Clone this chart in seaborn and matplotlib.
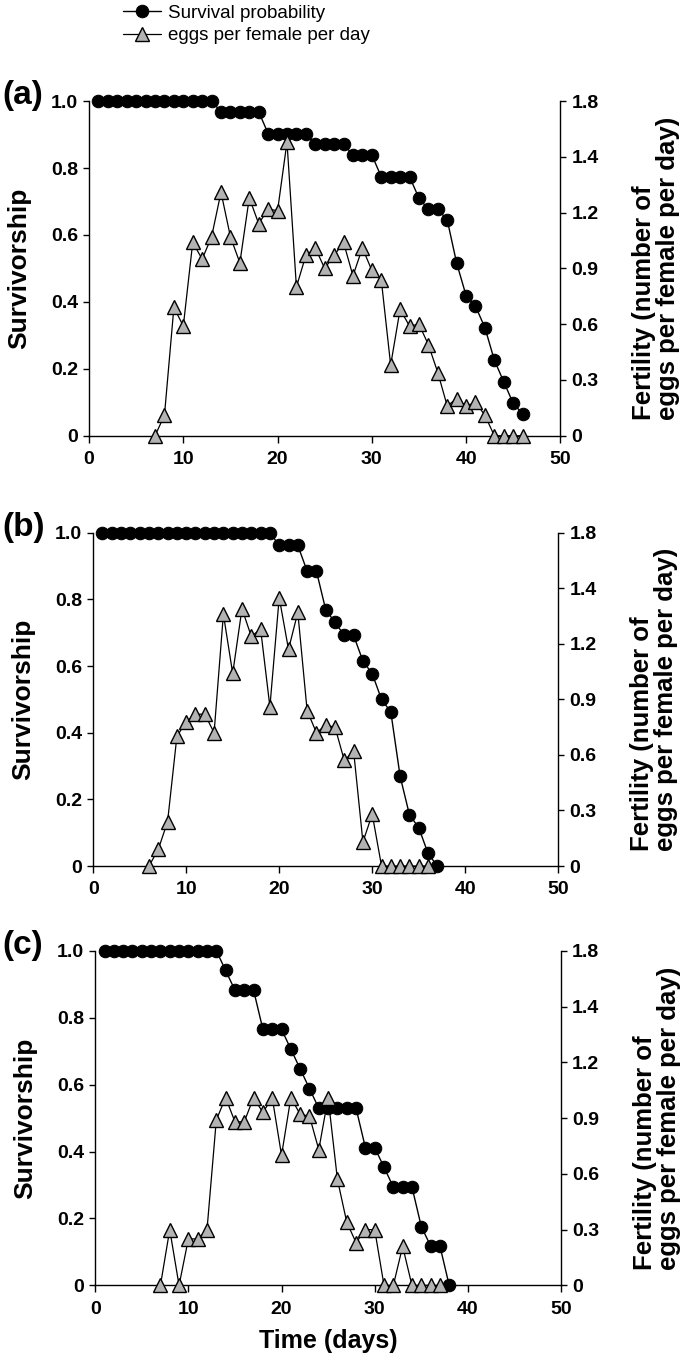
import matplotlib
matplotlib.use("Agg")
import matplotlib.pyplot as plt
import seaborn as sns
import numpy as np
import pandas as pd

# ---- data ----
days_surv_a = list(range(1, 47))
surv_a = [1.0] * 13 + [0.968] * 5 + [0.903] * 5 + [0.871] * 4 + [0.839] * 3 + [0.774] * 4 + \
         [0.710, 0.677, 0.677, 0.645, 0.516, 0.419, 0.387, 0.323, 0.226, 0.161, 0.097, 0.065]
days_eggs_a = list(range(7, 47))
eggs_a = [0, 0.11, 0.69, 0.59, 1.04, 0.95, 1.07, 1.31, 1.07, 0.93,
          1.28, 1.14, 1.22, 1.21, 1.58, 0.80, 0.97, 1.01, 0.90, 0.97,
          1.04, 0.86, 1.01, 0.89, 0.84, 0.38, 0.68, 0.59, 0.60, 0.49,
          0.34, 0.16, 0.20, 0.16, 0.18, 0.11, 0, 0, 0, 0]

days_surv_b = list(range(1, 38))
surv_b = [1.0] * 19 + [0.962] * 3 + [0.885] * 2 + \
         [0.769, 0.731, 0.692, 0.692, 0.615, 0.577, 0.5, 0.462, 0.269, 0.154, 0.115, 0.038, 0]
days_eggs_b = list(range(6, 37))
eggs_b = [0, 0.09, 0.24, 0.70, 0.78, 0.82, 0.82, 0.72, 1.36, 1.04,
          1.39, 1.24, 1.28, 0.86, 1.45, 1.17, 1.37, 0.84, 0.72, 0.76,
          0.75, 0.57, 0.62, 0.13, 0.28, 0, 0, 0, 0, 0, 0]

days_surv_c = list(range(1, 39))
surv_c = [1.0] * 13 + [0.941] + [0.882] * 3 + [0.765] * 3 + [0.706, 0.647, 0.588] + \
         [0.529] * 5 + [0.412] * 2 + [0.353] + [0.294] * 3 + [0.176, 0.118, 0.118, 0]
days_eggs_c = list(range(7, 38))
eggs_c = [0, 0.30, 0, 0.25, 0.25, 0.30, 0.89, 1.01, 0.88, 0.88,
          1.01, 0.93, 1.01, 0.70, 1.01, 0.92, 0.91, 0.73, 1.01, 0.57,
          0.34, 0.23, 0.30, 0.30, 0, 0, 0.21, 0, 0, 0, 0]

panel_labels = ['(a)', '(b)', '(c)']
x_ticks = [0, 10, 20, 30, 40, 50]
left_ticks = [0, 0.2, 0.4, 0.6, 0.8, 1.0]
left_ticklabels = ['0', '0.2', '0.4', '0.6', '0.8', '1.0']
right_ticks = [0, 0.3, 0.6, 0.9, 1.2, 1.5, 1.8]
right_ticklabels = ['0', '0.3', '0.6', '0.9', '1.2', '1.4', '1.8']

surv_days = [days_surv_a, days_surv_b, days_surv_c]
surv_vals = [surv_a, surv_b, surv_c]
egg_days = [days_eggs_a, days_eggs_b, days_eggs_c]
egg_vals = [eggs_a, eggs_b, eggs_c]

sns.set_style('ticks', rc={'axes.edgecolor': 'black', 'xtick.color': 'black',
                           'ytick.color': 'black', 'text.color': 'black',
                           'axes.labelcolor': 'black'})
plt.rcParams['font.family'] = ['Liberation Sans', 'DejaVu Sans']

fig = plt.figure(figsize=(6.85, 13.66), dpi=100)

# axes boxes [left, bottom, width, height] in figure fraction
boxes = [[0.130, 0.681, 0.688, 0.245],
         [0.136, 0.366, 0.679, 0.244],
         [0.139, 0.059, 0.680, 0.245]]

tick_font = dict(fontsize=14, fontweight='bold')
handles = []
for i in range(3):
    ax = fig.add_axes(boxes[i])
    sns.lineplot(x=surv_days[i], y=surv_vals[i], ax=ax, color='black', marker='o',
                 markersize=9, markerfacecolor='black', markeredgecolor='black',
                 linewidth=1, clip_on=False, legend=False)
    ax2 = ax.twinx()
    sns.lineplot(x=egg_days[i], y=egg_vals[i], ax=ax2, color='black', marker='^',
                 markersize=10, markerfacecolor='#b3b3b3', markeredgecolor='black',
                 markeredgewidth=1, linewidth=0.9, clip_on=False, legend=False)

    ax.set_xlim(0, 50)
    ax.set_ylim(0, 1.0)
    ax2.set_ylim(0, 1.8)
    ax.set_xticks(x_ticks)
    ax.set_xticklabels([str(t) for t in x_ticks], **tick_font)
    ax.set_yticks(left_ticks)
    ax.set_yticklabels(left_ticklabels, **tick_font)
    ax2.set_yticks(right_ticks)
    ax2.set_yticklabels(right_ticklabels, **tick_font)
    ax.tick_params(axis='y', length=4, width=1, direction='out', pad=4)
    ax.tick_params(axis='x', length=5, width=1, direction='out', pad=6)
    ax2.tick_params(axis='y', length=4, width=1, direction='out', pad=4)
    ax.spines['top'].set_visible(False)
    ax.spines['right'].set_visible(False)
    ax2.spines['top'].set_visible(False)
    ax2.spines['left'].set_visible(False)
    ax2.spines['bottom'].set_visible(False)
    for s in ax.spines.values():
        s.set_linewidth(1)
    ax2.spines['right'].set_linewidth(1)

    ax.set_ylabel('Survivorship', fontsize=19, fontweight='bold', labelpad=14)
    ax2.set_ylabel('Fertility (number of\neggs per female per day)', fontsize=18.5,
                   fontweight='bold', labelpad=24, multialignment='left', linespacing=1.0)
    if i == 2:
        ax.set_xlabel('Time (days)', fontsize=18, fontweight='bold', labelpad=8)
    else:
        ax.set_xlabel('')

    top = boxes[i][1] + boxes[i][3]
    fig.text(0.004, top + 0.004, panel_labels[i], fontsize=24, fontweight='bold',
             ha='left', va='center')

    if i == 0:
        handles = [ax.lines[0], ax2.lines[0]]

fig.legend(handles, ['Survival probability', 'eggs per female per day'],
           loc='upper left', bbox_to_anchor=(0.155, 1.009), frameon=False,
           prop={'family': ['Liberation Sans Narrow', 'Liberation Sans'], 'size': 13.5},
           handlelength=2.0, handletextpad=0.4, labelspacing=0.3)

fig.savefig('out.png', dpi=100)
